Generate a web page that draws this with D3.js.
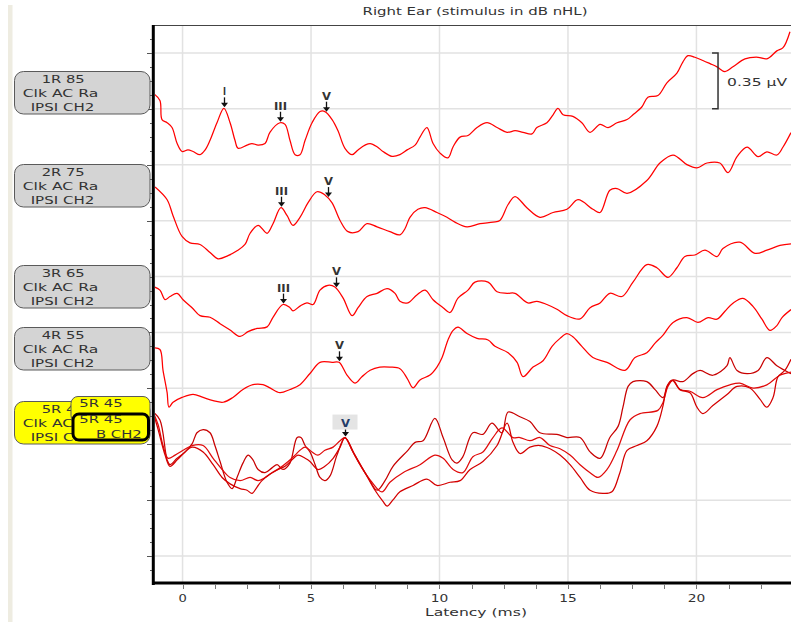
<!DOCTYPE html>
<html><head><meta charset="utf-8">
<script src="https://cdn.jsdelivr.net/npm/d3@7"></script>
<style>body{margin:0;background:#fff}svg{display:block}</style>
</head><body>
<svg id="c" width="791" height="622"></svg>
<script>
// ---------- DATA ----------
const chartTitle = "Right Ear (stimulus in dB nHL)";
const xTitle = "Latency (ms)";
const xTickValues = [0, 5, 10, 15, 20];
const scaleBarUV = 0.35;
const scaleBarLabel = "0.35 µV";
const traceNames = ["1R 85", "2R 75", "3R 65", "4R 55", "5R 45"];
const stimLine = "Clk AC Ra";
const chanLine = "IPSI CH2";
const overlayNames = ["5R 45", "5R 45"];
const overlaySub = "B CH2";
// display offset of each trace (µV)
const traceOffsets = [2.893, 2.311, 1.685, 1.303, 0.902];

// [latency ms, amplitude µV]
const trace1 = [[-1.11,0],[-0.88,-0.04],[-0.80,-0.16],[-0.60,-0.18],[-0.41,-0.21],[-0.21,-0.31],[-0.02,-0.36],[0.21,-0.35],[0.41,-0.36],[0.68,-0.38],[0.88,-0.35],[1.07,-0.29],[1.34,-0.18],[1.61,-0.09],[1.85,-0.18],[2.04,-0.29],[2.16,-0.34],[2.51,-0.32],[2.70,-0.31],[2.94,-0.32],[3.21,-0.31],[3.40,-0.24],[3.79,-0.18],[3.99,-0.19],[4.18,-0.29],[4.38,-0.38],[4.57,-0.38],[4.77,-0.29],[5.04,-0.18],[5.35,-0.11],[5.54,-0.11],[5.82,-0.16],[6.05,-0.23],[6.32,-0.34],[6.60,-0.38],[6.83,-0.35],[7.10,-0.32],[7.30,-0.31],[7.57,-0.33],[7.80,-0.36],[8.15,-0.39],[8.46,-0.38],[8.74,-0.35],[9.05,-0.32],[9.24,-0.27],[9.51,-0.21],[9.75,-0.31],[10.02,-0.37],[10.33,-0.40],[10.53,-0.33],[10.80,-0.27],[11.11,-0.26],[11.46,-0.21],[11.85,-0.18],[12.24,-0.21],[12.63,-0.24],[12.94,-0.23],[13.25,-0.24],[13.60,-0.25],[13.79,-0.21],[14.18,-0.18],[14.42,-0.13],[14.61,-0.09],[14.81,-0.13],[15.19,-0.14],[15.54,-0.18],[15.86,-0.24],[16.25,-0.19],[16.56,-0.21],[16.91,-0.18],[17.30,-0.16],[17.53,-0.13],[17.88,-0.08],[18.11,-0.02],[18.50,-0.01],[18.85,0.07],[19.24,0.13],[19.47,0.20],[19.67,0.24],[19.94,0.23],[20.25,0.21],[20.53,0.19],[20.80,0.17],[21.11,0.14],[21.42,0.17],[21.89,0.22],[22.40,0.23],[22.74,0.22],[23.13,0.27],[23.37,0.29],[23.64,0.39]];

const trace2 = [[-1.07,0],[-0.60,-0.08],[-0.37,-0.18],[-0.02,-0.31],[0.29,-0.35],[0.68,-0.36],[1.07,-0.41],[1.38,-0.45],[1.77,-0.43],[2.12,-0.40],[2.43,-0.36],[2.63,-0.29],[2.94,-0.24],[3.29,-0.29],[3.52,-0.23],[3.83,-0.13],[4.07,-0.18],[4.30,-0.24],[4.57,-0.19],[4.88,-0.10],[5.23,-0.03],[5.54,-0.05],[5.82,-0.10],[6.13,-0.21],[6.44,-0.28],[6.83,-0.28],[7.18,-0.23],[7.57,-0.25],[8.07,-0.28],[8.46,-0.30],[8.66,-0.26],[8.85,-0.19],[9.16,-0.14],[9.44,-0.13],[9.90,-0.16],[10.29,-0.19],[10.60,-0.22],[11.07,-0.25],[11.58,-0.23],[12.08,-0.22],[12.35,-0.21],[12.67,-0.11],[12.94,-0.06],[13.40,-0.13],[13.91,-0.19],[14.42,-0.16],[14.96,-0.14],[15.39,-0.08],[15.97,-0.14],[16.25,-0.16],[16.63,-0.02],[16.91,-0.01],[17.30,-0.04],[18.07,0.04],[18.58,0.15],[19.09,0.20],[19.63,0.14],[20.02,0.12],[20.41,0.15],[20.91,0.15],[21.23,0.09],[21.58,0.19],[21.97,0.25],[22.40,0.19],[22.74,0.22],[23.13,0.20],[23.37,0.25],[23.68,0.34]];

const trace3 = [[-1.11,0],[-0.88,-0.02],[-0.68,-0.08],[-0.49,-0.06],[-0.21,-0.04],[0.02,-0.08],[0.37,-0.13],[0.68,-0.18],[1.07,-0.19],[1.46,-0.23],[1.85,-0.27],[2.24,-0.31],[2.55,-0.28],[2.90,-0.26],[3.29,-0.25],[3.52,-0.19],[3.91,-0.11],[4.18,-0.13],[4.30,-0.15],[4.57,-0.12],[4.84,-0.10],[5.08,-0.11],[5.35,-0.02],[5.66,0.01],[5.93,0],[6.25,-0.07],[6.60,-0.18],[6.83,-0.13],[7.18,-0.06],[7.57,-0.04],[7.96,-0.01],[8.27,-0.04],[8.46,-0.09],[8.77,-0.10],[9.12,-0.05],[9.44,-0.02],[9.75,-0.08],[10.14,-0.13],[10.41,-0.16],[10.72,-0.07],[11.11,-0.02],[11.38,0.03],[11.89,0.03],[12.24,-0.03],[12.63,-0.04],[12.94,-0.04],[13.44,-0.10],[13.79,-0.09],[14.18,-0.11],[14.57,-0.14],[14.96,-0.18],[15.47,-0.20],[15.86,-0.13],[16.25,-0.10],[16.63,-0.04],[17.10,-0.06],[17.53,0.03],[18.07,0.14],[18.46,0.12],[18.89,0.06],[19.24,0.12],[19.55,0.19],[19.94,0.20],[20.33,0.23],[20.80,0.19],[21.03,0.24],[21.69,0.28],[22.28,0.21],[22.74,0.23],[23.25,0.26],[23.68,0.27]];

const trace4 = [[-1.11,0],[-0.88,-0.01],[-0.76,-0.14],[-0.60,-0.28],[-0.53,-0.37],[-0.37,-0.34],[-0.02,-0.31],[0.41,-0.29],[0.80,-0.31],[1.19,-0.33],[1.58,-0.34],[1.96,-0.31],[2.35,-0.26],[2.74,-0.23],[3.13,-0.23],[3.40,-0.25],[3.79,-0.28],[4.18,-0.26],[4.57,-0.23],[4.96,-0.16],[5.35,-0.09],[5.82,-0.09],[6.09,-0.09],[6.40,-0.17],[6.71,-0.22],[6.98,-0.18],[7.30,-0.14],[7.68,-0.12],[8.07,-0.12],[8.46,-0.13],[8.74,-0.19],[8.97,-0.25],[9.24,-0.20],[9.63,-0.17],[9.90,-0.12],[10.10,-0.06],[10.33,0.05],[10.53,0.11],[10.72,0.13],[11.07,0.09],[11.46,0.06],[11.89,0.05],[12.16,0.01],[12.67,-0.03],[13.02,-0.09],[13.25,-0.18],[13.64,-0.12],[14.03,-0.08],[14.38,0.01],[14.69,0.06],[14.96,0.09],[15.19,0.07],[15.54,0.01],[15.97,-0.06],[16.52,-0.09],[17.22,-0.14],[17.61,-0.06],[18.07,-0.03],[18.39,0.03],[18.70,0.08],[19.09,0.16],[19.63,0.19],[20.06,0.16],[20.45,0.19],[20.80,0.18],[21.11,0.23],[21.42,0.28],[21.81,0.31],[22.20,0.26],[22.55,0.18],[22.86,0.11],[23.13,0.14],[23.33,0.19],[23.68,0.24]];

// 5R 45: three overlaid sweeps
const trace5a = [[-1.15,0],[-0.88,-0.05],[-0.60,-0.30],[-0.49,-0.33],[-0.21,-0.29],[0.10,-0.25],[0.37,-0.20],[0.56,-0.13],[0.80,-0.11],[1.07,-0.13],[1.26,-0.21],[1.46,-0.31],[1.73,-0.44],[1.93,-0.48],[2.12,-0.41],[2.35,-0.32],[2.55,-0.27],[2.74,-0.30],[2.94,-0.36],[3.21,-0.38],[3.48,-0.35],[3.68,-0.33],[3.91,-0.36],[4.18,-0.32],[4.46,-0.16],[4.61,-0.16],[4.77,-0.21],[4.96,-0.25],[5.16,-0.33],[5.35,-0.41],[5.54,-0.43],[5.74,-0.40],[6.01,-0.27],[6.32,-0.16],[6.60,-0.24],[6.91,-0.33],[7.22,-0.41],[7.57,-0.49],[7.88,-0.43],[8.19,-0.34],[8.77,-0.24],[9.05,-0.19],[9.36,-0.18],[9.82,-0.04],[10.14,-0.16],[10.49,-0.30],[10.68,-0.32],[10.91,-0.28],[11.30,-0.13],[11.69,-0.14],[12.04,-0.07],[12.43,-0.13],[12.67,0],[13.13,-0.03],[13.52,-0.06],[13.91,-0.13],[14.57,-0.14],[14.96,-0.16],[15.47,-0.16],[15.86,-0.25],[16.25,-0.29],[16.63,-0.16],[16.95,-0.09],[17.14,0.03],[17.34,0.16],[17.53,0.19],[18.07,0.19],[18.39,0.14],[18.70,0.09],[18.89,0.17],[19.09,0.20],[19.47,0.19],[19.86,0.24],[20.14,0.26],[20.64,0.23],[21.19,0.29],[21.30,0.34],[21.58,0.26],[21.97,0.24],[22.40,0.26],[22.74,0.34],[23.13,0.29],[23.68,0.24]];

const trace5b = [[-1.15,0],[-0.95,-0.08],[-0.76,-0.21],[-0.56,-0.29],[-0.29,-0.27],[0.02,-0.24],[0.37,-0.21],[0.80,-0.21],[1.19,-0.29],[1.54,-0.36],[1.85,-0.41],[2.24,-0.43],[2.63,-0.41],[2.94,-0.43],[3.21,-0.41],[3.48,-0.38],[3.79,-0.35],[4.11,-0.31],[4.38,-0.27],[4.57,-0.24],[4.77,-0.22],[5.04,-0.25],[5.27,-0.27],[5.54,-0.24],[5.86,-0.22],[6.13,-0.18],[6.32,-0.16],[6.63,-0.25],[6.98,-0.35],[7.37,-0.44],[7.76,-0.50],[8.07,-0.44],[8.58,-0.38],[9.24,-0.33],[9.82,-0.27],[10.14,-0.29],[10.53,-0.36],[10.91,-0.38],[11.30,-0.28],[11.69,-0.25],[12.08,-0.16],[12.43,-0.10],[12.86,-0.16],[13.13,-0.16],[13.52,-0.18],[13.91,-0.16],[14.30,-0.21],[14.69,-0.23],[15.08,-0.27],[15.47,-0.33],[15.86,-0.38],[16.17,-0.41],[16.52,-0.36],[16.91,-0.24],[17.41,-0.05],[17.80,-0.01],[18.50,0.01],[18.70,0.06],[18.89,0.16],[19.09,0.20],[19.36,0.14],[19.75,0.13],[20.25,0.09],[20.80,0.14],[21.30,0.17],[21.69,0.18],[22.20,0.15],[22.74,0.17],[23.25,0.23],[23.68,0.25]];

const trace5c = [[-1.15,0],[-0.95,-0.11],[-0.68,-0.27],[-0.49,-0.34],[-0.21,-0.30],[0.10,-0.25],[0.37,-0.22],[0.80,-0.25],[1.19,-0.33],[1.54,-0.41],[1.85,-0.45],[2.24,-0.48],[2.51,-0.49],[2.70,-0.51],[2.90,-0.47],[3.09,-0.43],[3.40,-0.39],[3.72,-0.36],[3.99,-0.34],[4.26,-0.30],[4.49,-0.27],[4.77,-0.29],[4.96,-0.31],[5.27,-0.36],[5.54,-0.34],[5.86,-0.29],[6.13,-0.22],[6.32,-0.16],[6.71,-0.27],[7.10,-0.38],[7.49,-0.49],[7.80,-0.56],[7.96,-0.59],[8.19,-0.55],[8.46,-0.50],[8.97,-0.46],[9.51,-0.42],[9.90,-0.46],[10.41,-0.44],[10.80,-0.43],[11.19,-0.36],[11.69,-0.31],[12.24,-0.21],[12.63,-0.07],[12.86,-0.19],[13.13,-0.26],[13.52,-0.22],[13.91,-0.21],[14.30,-0.23],[14.69,-0.27],[15.08,-0.33],[15.47,-0.41],[15.86,-0.49],[16.36,-0.51],[16.71,-0.50],[17.02,-0.38],[17.30,-0.24],[17.69,-0.21],[18.07,-0.18],[18.46,-0.09],[18.70,0.04],[18.85,0.16],[19.05,0.20],[19.36,0.14],[19.75,0.12],[20.02,0.03],[20.25,-0.01],[20.64,0.04],[21.19,0.11],[21.58,0.16],[22.08,0.15],[22.47,0.08],[22.74,0.03],[22.98,0.09],[23.17,0.22],[23.44,0.26],[23.68,0.33]];

// peak markers [label, latency ms]
const peaks1 = [["I",1.61],["III",3.79],["V",5.58]];
const peaks2 = [["III",3.83],["V",5.65]];
const peaks3 = [["III",3.92],["V",5.97]];
const peaks4 = [["V",6.09]];
const peaks5 = [["V",6.32]];

// ---------- DRAW ----------
const FONT = "'DejaVu Sans', Verdana, sans-serif";
const svg = d3.select("#c");
const x = d3.scaleLinear().domain([-1.15, 23.68]).range([153, 791]);
const y = d3.scaleLinear().domain([-0.175, 3.325]).range([584, 25]);

const traces = [
  {name:0, sweeps:[trace1], colors:["#ff0000"], peaks:peaks1},
  {name:1, sweeps:[trace2], colors:["#ff0000"], peaks:peaks2},
  {name:2, sweeps:[trace3], colors:["#ff0000"], peaks:peaks3},
  {name:3, sweeps:[trace4], colors:["#ff0000"], peaks:peaks4},
  {name:4, sweeps:[trace5a, trace5b, trace5c], colors:["#c80000","#e00a0a","#d40000"], peaks:peaks5}
];

function txt(s, tx, ty, o) {
  o = o || {};
  const t = svg.append("text").attr("x", tx).attr("y", ty).text(s)
    .attr("font-family", FONT).attr("font-size", o.size || 11)
    .attr("fill", o.fill || "#333")
    .attr("text-anchor", o.anchor || "start");
  if (o.bold) t.attr("font-weight", "bold");
  if (o.len) t.attr("textLength", o.len).attr("lengthAdjust", "spacingAndGlyphs");
  return t;
}

// left strip
svg.append("rect").attr("x", 8).attr("y", 5).attr("width", 4.5).attr("height", 617).attr("fill", "#eeece1");

// clip
svg.append("defs").append("clipPath").attr("id","plot").append("rect")
  .attr("x", 155).attr("y", 25).attr("width", 636).attr("height", 557);

// gridlines
const gridVals = d3.range(0, 3.16, 0.35);
svg.append("g").selectAll("line").data(gridVals).join("line")
  .attr("x1", 155).attr("x2", 791).attr("y1", d => y(d)).attr("y2", d => y(d))
  .attr("stroke", "#e2e2e2").attr("stroke-width", 1.5);
svg.append("g").selectAll("line").data(xTickValues).join("line")
  .attr("x1", d => x(d)).attr("x2", d => x(d)).attr("y1", 25).attr("y2", 582)
  .attr("stroke", "#e2e2e2").attr("stroke-width", 1.5);

// traces
const line = d3.line().x(d => x(d[0])).curve(d3.curveCatmullRom.alpha(0.5));
const gTr = svg.append("g").attr("clip-path", "url(#plot)");
traces.forEach((tr, i) => {
  tr.sweeps.forEach((sw, k) => {
    gTr.append("path").datum(sw)
      .attr("d", line.y(d => y(traceOffsets[i] + d[1])))
      .attr("fill", "none").attr("stroke", tr.colors[k]).attr("stroke-width", 1.25)
      .attr("stroke-linejoin", "round");
  });
});

// axes
svg.append("line").attr("x1", 153).attr("x2", 791).attr("y1", 25.5).attr("y2", 25.5).attr("stroke", "#444").attr("stroke-width", 1);
svg.append("line").attr("x1", 153.3).attr("x2", 153.3).attr("y1", 25).attr("y2", 585).attr("stroke", "#000").attr("stroke-width", 3);
svg.append("line").attr("x1", 152).attr("x2", 791).attr("y1", 583).attr("y2", 583).attr("stroke", "#000").attr("stroke-width", 3);
// y ticks
const yMinor = d3.range(-0.175 + 0.0875, 3.325, 0.0875);
svg.append("g").selectAll("line").data(yMinor).join("line")
  .attr("x1", (d, i) => (i % 4 === 1) ? 147 : 150).attr("x2", 152)
  .attr("y1", d => Math.round(y(d)) + 0.5).attr("y2", d => Math.round(y(d)) + 0.5)
  .attr("stroke", "#555").attr("stroke-width", 1);
// x ticks
const xMinor = d3.range(0, 23.7, 1.25);
svg.append("g").selectAll("line").data(xMinor).join("line")
  .attr("x1", d => Math.round(x(d)) + 0.5).attr("x2", d => Math.round(x(d)) + 0.5)
  .attr("y1", 585).attr("y2", 589).attr("stroke", "#777").attr("stroke-width", 1);
xTickValues.forEach(v => txt(String(v), x(v), 602, {anchor: "middle", len: String(v).length > 1 ? 17.5 : 8.3}));
txt(xTitle, 425, 616, {len: 102});
txt(chartTitle, 362.5, 15, {len: 225});

// scale bar
const sbx = x(20.84);
const sbTop = y(3.15), sbBot = y(3.15 - scaleBarUV);
svg.append("path").attr("d", `M${sbx - 6},${sbTop} H${sbx} V${sbBot} H${sbx - 6}`)
  .attr("fill", "none").attr("stroke", "#333").attr("stroke-width", 1.5);
txt(scaleBarLabel, 727, 85.5, {len: 60});

// peak markers
function ampAt(sw, t) {
  const i = d3.bisector(d => d[0]).right(sw, t) - 1;
  const a = sw[Math.max(0, i)], b = sw[Math.min(sw.length - 1, i + 1)];
  if (b[0] === a[0]) return a[1];
  return a[1] + (b[1] - a[1]) * (t - a[0]) / (b[0] - a[0]);
}
traces.forEach((tr, i) => {
  tr.peaks.forEach(([lab, lat]) => {
    const px = Math.round(x(lat)) + 0.5;
    const tip = y(traceOffsets[i] + ampAt(tr.sweeps[0], lat)) - 1;
    if (i === 4) {
      svg.append("rect").attr("x", px - 13).attr("y", tip - 22).attr("width", 25).attr("height", 15).attr("fill", "#e4e4e4");
    }
    svg.append("line").attr("x1", px).attr("x2", px).attr("y1", tip - (i === 4 ? 7 : 10)).attr("y2", tip - 2)
      .attr("stroke", "#111").attr("stroke-width", 1.3);
    svg.append("path").attr("d", `M${px - 3.5},${tip - 4.5} L${px + 3.5},${tip - 4.5} L${px},${tip} Z`).attr("fill", "#111");
    txt(lab, px, tip - (i === 4 ? 10 : 12), {anchor: "middle", bold: true, size: 10, fill: i === 4 ? "#223a66" : "#333",
      len: lab === "III" ? 13 : (lab === "V" ? 9 : 3)});
  });
});

// label boxes
const boxTops = [71.5, 164.5, 265.5, 327.5, 401.5];
traceNames.forEach((nm, i) => {
  const top = boxTops[i];
  svg.append("rect").attr("x", 14.5).attr("y", top).attr("width", 135.5).attr("height", 42.5)
    .attr("rx", 9).attr("fill", i === 4 ? "#ffff00" : "#d4d4d4").attr("stroke", "#5a5a5a").attr("stroke-width", 1);
  txt(nm, 41.7, top + 11, {len: 43});
  txt(stimLine, 22.7, top + 25.3, {len: 75.6});
  txt(chanLine, 30.7, top + 39.5, {len: 63.6});
});
// overlay boxes for 5R 45
svg.append("rect").attr("x", 71).attr("y", 396.5).attr("width", 79).attr("height", 26)
  .attr("rx", 7).attr("fill", "#ffff00").attr("stroke", "#5a5a5a").attr("stroke-width", 1);
txt(overlayNames[0], 79.3, 406.7, {len: 43.4});
svg.append("rect").attr("x", 73).attr("y", 414).attr("width", 75.5).attr("height", 26)
  .attr("rx", 6).attr("fill", "#ffff00").attr("stroke", "#000").attr("stroke-width", 3);
txt(overlayNames[1], 79.3, 423.3, {len: 43.4});
txt(overlaySub, 96, 438, {len: 45.7});
</script>
</body></html>
